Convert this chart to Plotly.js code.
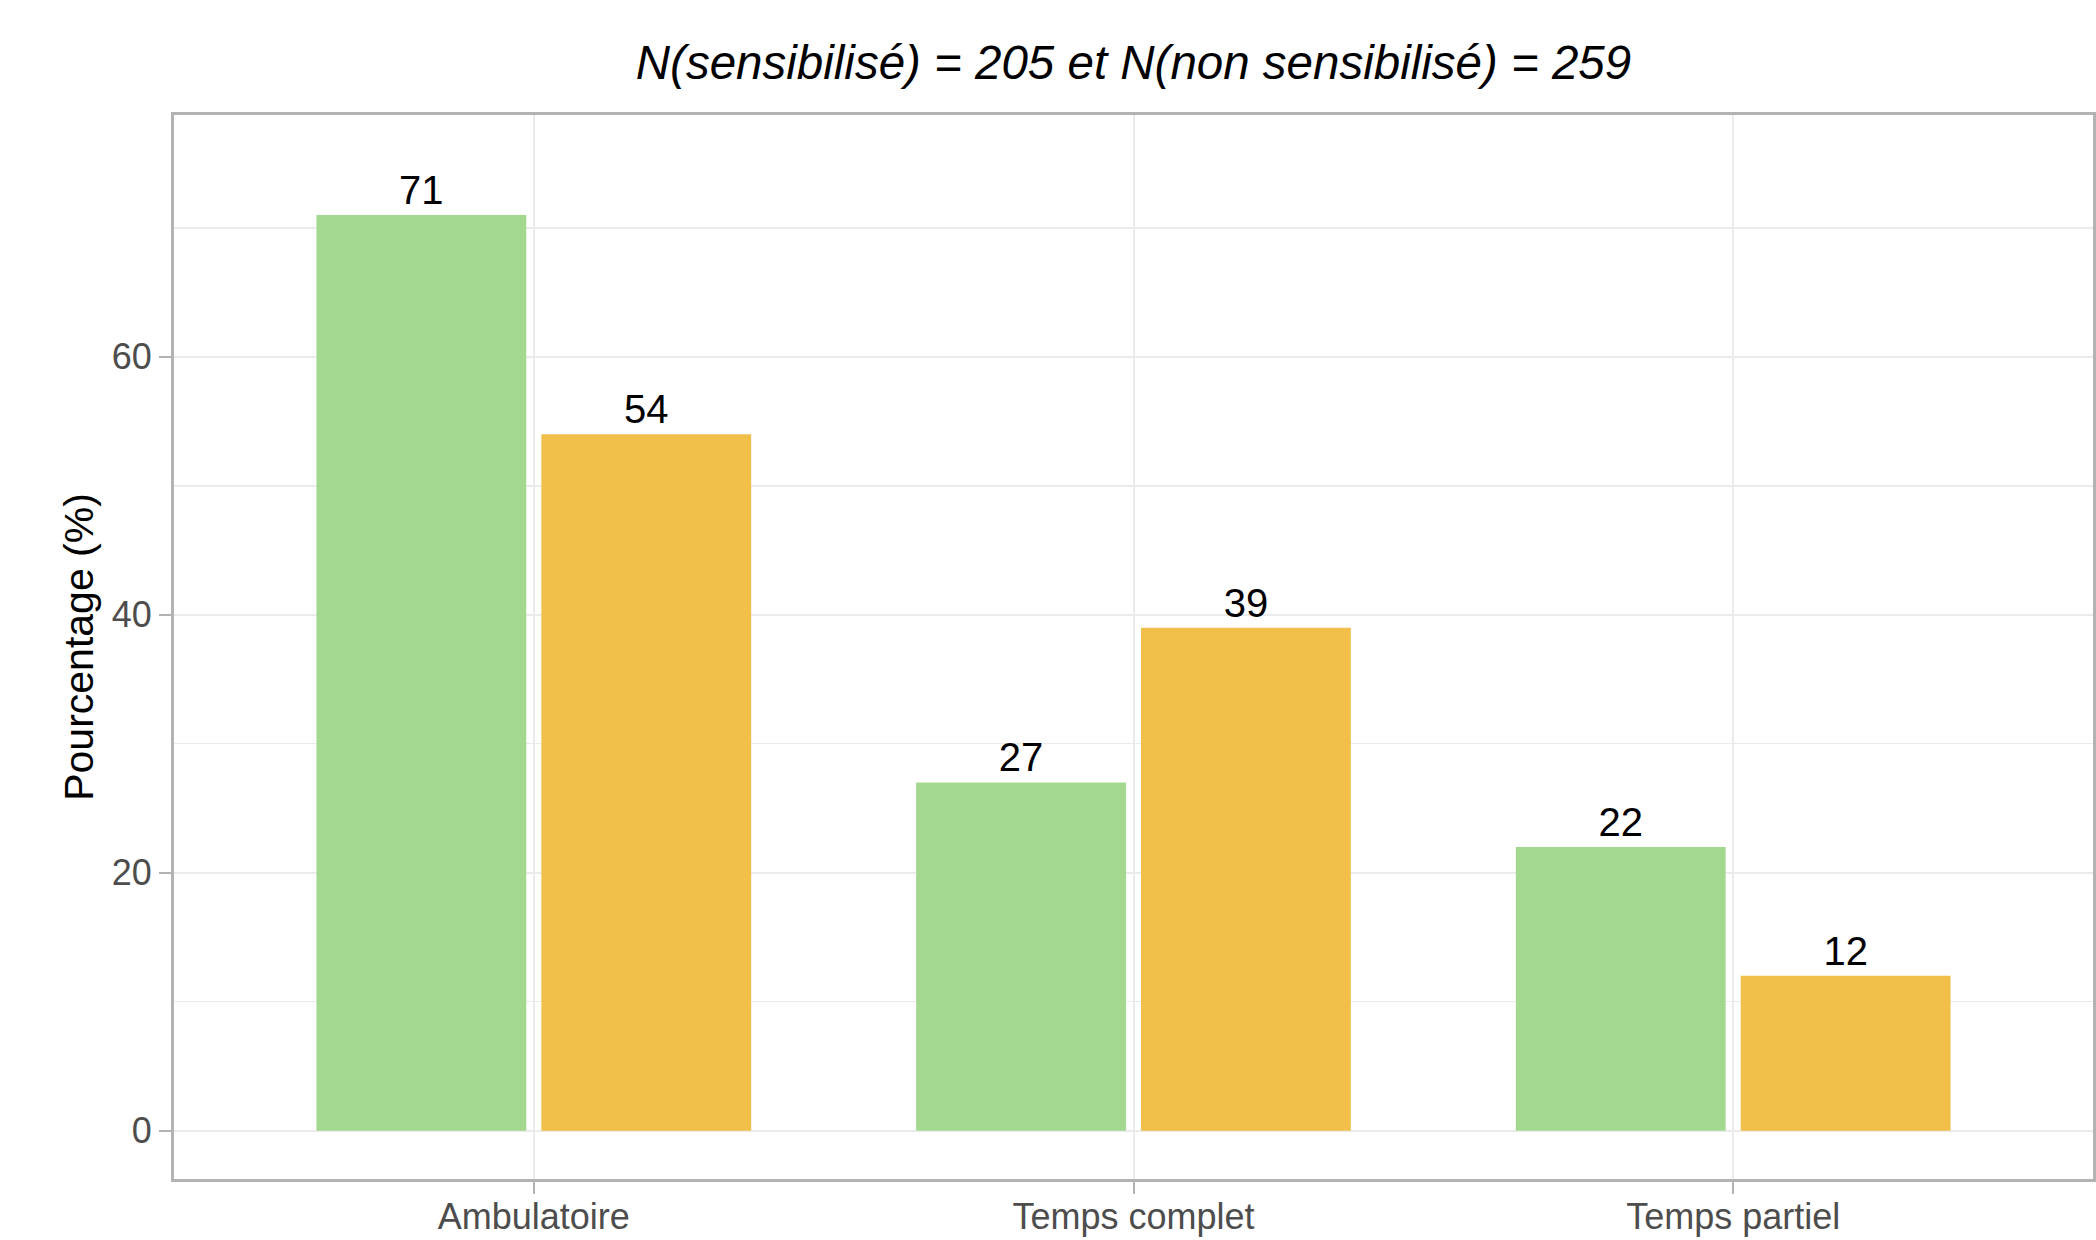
<!DOCTYPE html>
<html>
<head>
<meta charset="utf-8">
<script src="https://cdn.plot.ly/plotly-3.0.1.min.js"></script>
<style>html,body{margin:0;padding:0;background:#fff;}#chart{width:2096px;height:1240px;}</style>
</head>
<body>
<div id="chart"></div>
<script>
const categories = ["Ambulatoire", "Temps complet", "Temps partiel"];
const sensibilise = [71, 27, 22];
const nonSensibilise = [54, 39, 12];
const seriesNames = ["Sensibilisé", "Non sensibilisé"];
const yTicks = [0, 20, 40, 60];
const titleText = "N(sensibilisé) = 205 et N(non sensibilisé) = 259";
const yTitle = "Pourcentage (%)";

const FONT = "Liberation Sans, Arial, Helvetica, sans-serif";

function barTrace(name, values, color) {
  return {
    type: "bar",
    name: name,
    x: categories,
    y: values,
    text: values.map(String),
    textposition: "outside",
    constraintext: "none",
    cliponaxis: false,
    textfont: {family: FONT, size: 40, color: "#000000"},
    marker: {color: color, line: {width: 0}},
    hoverinfo: "x+y+name"
  };
}

const data = [
  barTrace(seriesNames[0], sensibilise, "#a3d98f"),
  barTrace(seriesNames[1], nonSensibilise, "#f2bf4b")
];

const axisCommon = {
  showline: true,
  mirror: true,
  linecolor: "#b3b3b3",
  linewidth: 3,
  ticks: "outside",
  ticklen: 12,
  tickwidth: 2,
  tickcolor: "#b3b3b3",
  showgrid: true,
  gridcolor: "#ebebeb",
  gridwidth: 2,
  zeroline: false,
  tickfont: {family: FONT, size: 36, color: "#4d4d4d"},
  fixedrange: true
};

const layout = {
  width: 2096,
  height: 1240,
  paper_bgcolor: "#ffffff",
  plot_bgcolor: "#ffffff",
  showlegend: false,
  barmode: "group",
  bargap: 0.25,
  bargroupgap: 0.067,
  margin: {l: 174, r: 3, t: 115, b: 61, pad: 0},
  title: {
    text: "<i>" + titleText + "</i>",
    font: {family: FONT, size: 47.5, color: "#000000"},
    x: (174 + 2093) / 2 / 2096,
    xanchor: "center",
    xref: "container",
    y: 1 - 62 / 1240,
    yanchor: "middle",
    yref: "container"
  },
  xaxis: Object.assign({}, axisCommon, {
    type: "category",
    range: [-0.6, 2.6],
    ticklabelstandoff: -8
  }),
  yaxis: Object.assign({}, axisCommon, {
    range: [-3.75, 78.75],
    tickmode: "array",
    tickvals: yTicks,
    ticktext: yTicks.map(String),
    ticklabelstandoff: 0,
    minor: {dtick: 10, tick0: 0, showgrid: true, gridcolor: "#ebebeb", gridwidth: 1.5, ticks: ""},
    title: {text: yTitle, font: {family: FONT, size: 41, color: "#000000"}, standoff: 6}
  })
};

Plotly.newPlot("chart", data, layout, {displayModeBar: false, staticPlot: true});
</script>
</body>
</html>
